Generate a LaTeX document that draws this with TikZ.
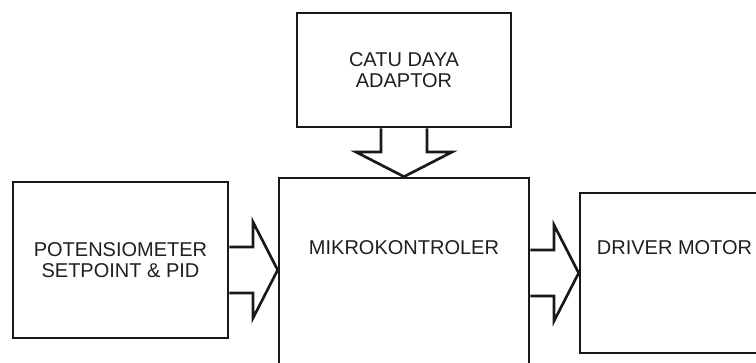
\documentclass[tikz,border=0pt]{standalone}
\usepackage{fontspec}
\setmainfont{Liberation Sans}
\usepackage{tikz}
\usetikzlibrary{calc, positioning}

% outline block arrow from one point to another
\newcommand{\blockarrow}[2]{%
  \coordinate (ba-neck) at ($(#1)!0.49!(#2)$);
  \draw[blockline] ($(#1)!17.25pt!90:(#2)$) -- ($(ba-neck)!17.25pt!90:(#2)$)
    -- ($(ba-neck)!36pt!90:(#2)$) -- (#2)
    -- ($(ba-neck)!36pt!-90:(#2)$) -- ($(ba-neck)!17.25pt!-90:(#2)$)
    -- ($(#1)!17.25pt!-90:(#2)$);}

\begin{document}
\begin{tikzpicture}[
  x=0.75pt, y=-0.75pt,
  every node/.style={font=\fontsize{15}{16}\selectfont, text=black!88},
  block/.style={draw=black!90, line width=2pt, align=center, inner sep=0pt},
  txt/.style={inner sep=0pt, align=center},
  blockline/.style={draw=black!90, line width=2pt, line join=miter},
]
\useasboundingbox (0,0) rectangle (756,362);

% Blocks
\node[block, minimum width=160.5pt, minimum height=85.5pt] (adaptor) at (404,70) {CATU DAYA\\ADAPTOR};
\node[block, minimum width=187.5pt, minimum height=166.5pt] (mcu) at (404,289) {};
\node[block, minimum width=161.25pt, minimum height=117pt] (pot) at (120.5,260) {POTENSIOMETER\\SETPOINT \& PID};
\node[block, minimum width=141.75pt, minimum height=120pt] (driver) at (674.5,273) {};

% Texts near the top of the tall blocks
\node[txt] (mcutxt) at ($(mcu.north)+(0,71)$) {MIKROKONTROLER};
\node[txt] (drivertxt) at ($(driver.north)+(0,56)$) {DRIVER MOTOR};

% Block arrows
\coordinate (potout) at ($(pot.east)+(0,10)$);
\coordinate (mcuin) at (mcu.west |- potout);
\blockarrow{adaptor.south}{mcu.north}
\blockarrow{potout}{mcuin}
\blockarrow{mcu.east |- driver}{driver.west}

\end{tikzpicture}
\end{document}
